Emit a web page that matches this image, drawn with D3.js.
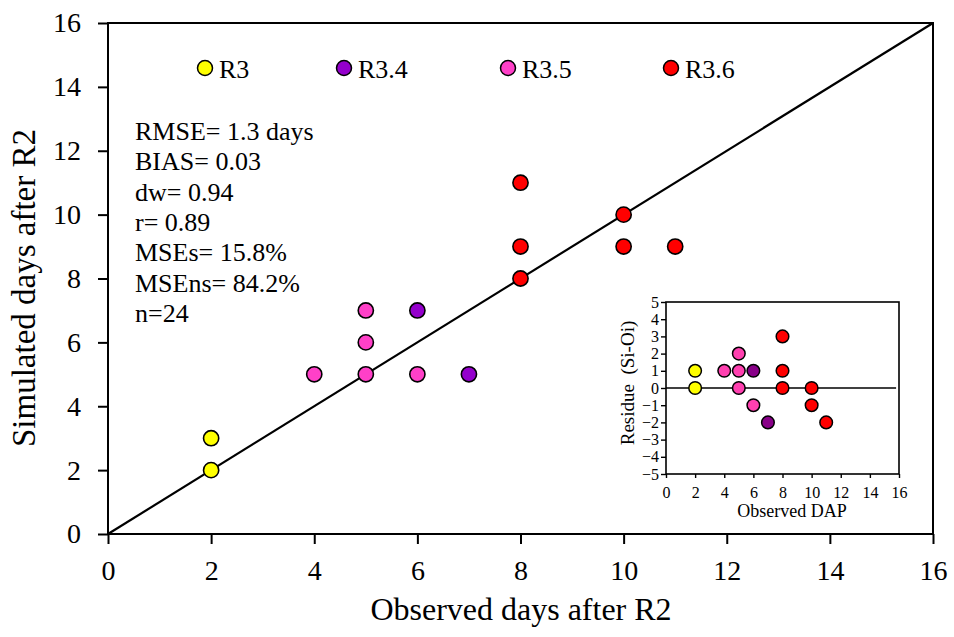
<!DOCTYPE html>
<html>
<head>
<meta charset="utf-8">
<script src="https://cdn.jsdelivr.net/npm/d3@7"></script>
<style>
    body { margin: 0; background: #fff; }
</style>
</head>
<body>
<div class="chart-svg"></div>
<script>
// stage of each point, observed and simulated days after R2
var stages = ["R3", "R3.4", "R3.5", "R3.6"];
var stageColors = ["#ffff00", "#9400cc", "#ff40c8", "#ff0000"];
var insetColors = ["#ffff00", "#880088", "#ff40b0", "#ff0000"];

var pointStage = ["R3", "R3",
                  "R3.4", "R3.4",
                  "R3.5", "R3.5", "R3.5", "R3.5", "R3.5",
                  "R3.6", "R3.6", "R3.6", "R3.6", "R3.6", "R3.6"];
var observed  = [2, 2, 6, 7, 4, 5, 5, 5, 6, 8, 8, 8, 10, 10, 11];
var simulated = [3, 2, 7, 5, 5, 7, 6, 5, 5, 11, 9, 8, 10, 9, 9];

var statLines = ["RMSE= 1.3 days", "BIAS= 0.03", "dw= 0.94", "r= 0.89",
                 "MSEs= 15.8%", "MSEns= 84.2%", "n=24"];

var mainTicks = [0, 2, 4, 6, 8, 10, 12, 14, 16];
var insetXTicks = [0, 2, 4, 6, 8, 10, 12, 14, 16];
var insetYTicks = [-5, -4, -3, -2, -1, 0, 1, 2, 3, 4, 5];

var FONT = "'Liberation Serif', 'Times New Roman', serif";

var svgWidth = 954;
var svgHeight = 637;

var svg = d3.select(".chart-svg")
    .append("svg")
    .attr("width", svgWidth)
    .attr("height", svgHeight)
    .attr("font-family", "Liberation Serif");

var points = pointStage.map(function(s, i){
    return {stage: s, obs: observed[i], sim: simulated[i], res: simulated[i] - observed[i]};
});

function colorOf(s, list){
    return list[stages.indexOf(s)];
}

function addText(x, y, size, str){
    return svg.append("text")
        .attr("x", x)
        .attr("y", y)
        .style("font-family", FONT)
        .style("font-size", size + "px")
        .attr("fill", "#000")
        .text(str);
}

// ---- main plot ----
var plot = {left: 108, right: 933, top: 23, bottom: 534};

var xScale = d3.scaleLinear().domain([0, 16]).range([plot.left, plot.right]);
var yScale = d3.scaleLinear().domain([0, 16]).range([plot.bottom, plot.top]);

var xAxis = d3.axisBottom(xScale).tickValues(mainTicks).tickSize(10).tickPadding(16).tickSizeOuter(0);
var yAxis = d3.axisLeft(yScale).tickValues(mainTicks).tickSize(10).tickPadding(17).tickSizeOuter(0);

var gx = svg.append("g")
    .attr("transform", "translate(0," + plot.bottom + ")")
    .call(xAxis);
var gy = svg.append("g")
    .attr("transform", "translate(" + plot.left + ",0)")
    .call(yAxis);

[gx, gy].forEach(function(g){
    g.attr("font-family", "Liberation Serif").attr("font-size", 28);
    g.select(".domain").remove();
    g.selectAll("line").attr("stroke", "#000").attr("stroke-width", 2);
    g.selectAll("text").style("font-size", "28px").style("font-family", FONT);
});

svg.append("rect")
    .attr("x", plot.left)
    .attr("y", plot.top)
    .attr("width", plot.right - plot.left)
    .attr("height", plot.bottom - plot.top)
    .attr("fill", "none")
    .attr("stroke", "#000")
    .attr("stroke-width", 2);

// 1:1 line
svg.append("line")
    .attr("x1", xScale(0)).attr("y1", yScale(0))
    .attr("x2", xScale(16)).attr("y2", yScale(16))
    .attr("stroke", "#000")
    .attr("stroke-width", 2.2);

svg.append("g").selectAll("circle")
    .data(points)
    .enter()
    .append("circle")
    .attr("cx", function(d){ return xScale(d.obs); })
    .attr("cy", function(d){ return yScale(d.sim); })
    .attr("r", 7.6)
    .attr("fill", function(d){ return colorOf(d.stage, stageColors); })
    .attr("stroke", "#000")
    .attr("stroke-width", 1.6);

// axis titles
addText(521, 620, 32, "Observed days after R2").attr("text-anchor", "middle");

svg.append("text")
    .attr("transform", "translate(35,288) rotate(-90)")
    .attr("text-anchor", "middle")
    .style("font-family", FONT)
    .style("font-size", "33px")
    .text("Simulated days after R2");

// legend
var legendX = [205, 344, 508, 671];
var legend = svg.append("g").selectAll("g")
    .data(stages)
    .enter()
    .append("g")
    .attr("transform", function(d, i){ return "translate(" + legendX[i] + ",68)"; });

legend.append("circle")
    .attr("r", 7.5)
    .attr("fill", function(d, i){ return stageColors[i]; })
    .attr("stroke", "#000")
    .attr("stroke-width", 1.5);

legend.append("text")
    .attr("x", 14)
    .attr("y", 10)
    .style("font-family", FONT)
    .style("font-size", "26px")
    .text(function(d){ return d; });

// statistics
svg.append("g").selectAll("text")
    .data(statLines)
    .enter()
    .append("text")
    .attr("x", 135)
    .attr("y", function(d, i){ return 140 + i * 30.3; })
    .style("font-family", FONT)
    .style("font-size", "26px")
    .text(function(d){ return d; });

// ---- inset: residues ----
var inset = {left: 666, right: 899, top: 302, bottom: 474};

var ixScale = d3.scaleLinear().domain([0, 16]).range([inset.left, inset.right]);
var iyScale = d3.scaleLinear().domain([-5, 5]).range([inset.bottom, inset.top]);

svg.append("rect")
    .attr("x", inset.left)
    .attr("y", inset.top)
    .attr("width", inset.right - inset.left)
    .attr("height", inset.bottom - inset.top)
    .attr("fill", "#fff")
    .attr("stroke", "#000")
    .attr("stroke-width", 1.6);

var igx = svg.append("g")
    .attr("transform", "translate(0," + inset.bottom + ")")
    .call(d3.axisBottom(ixScale).tickValues(insetXTicks).tickSize(4).tickPadding(9).tickSizeOuter(0));
var igy = svg.append("g")
    .attr("transform", "translate(" + inset.left + ",0)")
    .call(d3.axisLeft(iyScale).tickValues(insetYTicks).tickSize(5).tickPadding(2).tickSizeOuter(0));

[igx, igy].forEach(function(g){
    g.attr("font-family", "Liberation Serif").attr("font-size", 16);
    g.select(".domain").remove();
    g.selectAll("line").attr("stroke", "#000").attr("stroke-width", 1.4);
    g.selectAll("text").style("font-size", "16px").style("font-family", FONT);
});

svg.append("line")
    .attr("x1", ixScale(0)).attr("y1", iyScale(0))
    .attr("x2", ixScale(15.8)).attr("y2", iyScale(0))
    .attr("stroke", "#000")
    .attr("stroke-width", 1.6);

svg.append("g").selectAll("circle")
    .data(points)
    .enter()
    .append("circle")
    .attr("cx", function(d){ return ixScale(d.obs); })
    .attr("cy", function(d){ return iyScale(d.res); })
    .attr("r", 6.3)
    .attr("fill", function(d){ return colorOf(d.stage, insetColors); })
    .attr("stroke", "#000")
    .attr("stroke-width", 1.5);

addText(792, 517, 18, "Observed DAP").attr("text-anchor", "middle");

svg.append("text")
    .attr("transform", "translate(634,383) rotate(-90)")
    .attr("text-anchor", "middle")
    .style("font-family", FONT)
    .style("font-size", "19px")
    .style("white-space", "pre")
    .text("Residue  (Si-Oi)");
</script>
</body>
</html>
